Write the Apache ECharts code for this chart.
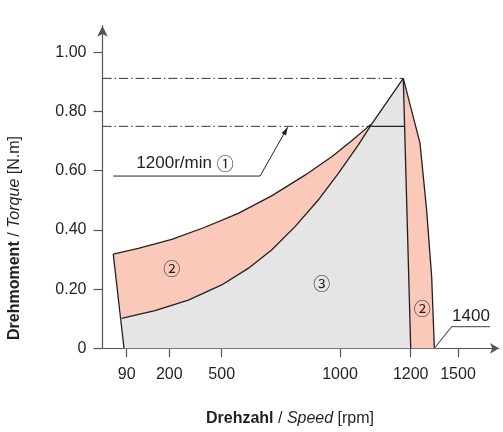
<!DOCTYPE html>
<html>
<head>
<meta charset="utf-8">
<script src="https://cdn.jsdelivr.net/npm/echarts@6/dist/echarts.min.js"></script>
<style>html,body{margin:0;padding:0;background:#fff}#c{width:503px;height:432px}</style>
</head>
<body>
<div id="c"></div>
<script>
// ---- axis ticks ----
const xTickRpm = [90, 200, 500, 1000, 1200, 1500];
const yTicks = [0, 0.2, 0.4, 0.6, 0.8, 1.0];
// schematic (non-linear) speed scale of the drawing: rpm -> fraction of axis length
const xScaleRpm = [0, 90, 200, 500, 1000, 1200, 1500];
const xScaleFrac = [0, 0.0610, 0.1685, 0.3006, 0.5990, 0.7773, 0.8966];

// ---- curves (rpm, N.m) ----
const upperCurveRpm = [40, 120, 214, 404, 570, 711, 852, 965, 1033, 1080, 1090];
const upperCurveTorque = [0.318, 0.338, 0.368, 0.409, 0.456, 0.515, 0.585, 0.647, 0.701, 0.749, 0.758];
const lowerCurveRpm = [71, 163, 309, 500, 612, 711, 810, 908, 993, 1052, 1090];
const lowerCurveTorque = [0.101, 0.127, 0.163, 0.214, 0.270, 0.332, 0.411, 0.501, 0.591, 0.687, 0.758];
const peakPoint = [1179, 0.912];
const rightCurveRpm = [1179, 1259, 1301, 1333, 1350];
const rightCurveTorque = [0.912, 0.693, 0.467, 0.242, 0];
const leftBottom = [80, 0];
const ratedBottom = [1200, 0];
const ratedLine = [[1090, 0.75], [1183, 0.75]];

// dash-dot reference lines
const refTorque = [0.912, 0.75];
const refEndRpm = [1179, 1090];

// annotations
const note1200Text = '1200r/min';
const note1200Mark = '①';
const note1200At = [290, 0.625];
const note1200Leader = [[40, 0.582], [662, 0.582], [779, 0.747]];
const note1400Text = '1400';
const note1400At = [1582, 0.107];
const note1400Leader = [[1350, 0], [1460, 0.073], [1703, 0.073]];
const zoneLabels = ['②', '③', '②'];
const zoneRpm = [214, 923, 1274];
const zoneTorque = [0.268, 0.220, 0.135];

function toAxis(rpm) {
  const n = xScaleRpm.length;
  let i = 0;
  while (i < n - 2 && rpm > xScaleRpm[i + 1]) i++;
  const r0 = xScaleRpm[i], r1 = xScaleRpm[i + 1], f0 = xScaleFrac[i], f1 = xScaleFrac[i + 1];
  return f0 + (rpm - r0) * (f1 - f0) / (r1 - r0);
}
function fromAxis(f) {
  const n = xScaleFrac.length;
  let i = 0;
  while (i < n - 2 && f > xScaleFrac[i + 1]) i++;
  const r0 = xScaleRpm[i], r1 = xScaleRpm[i + 1], f0 = xScaleFrac[i], f1 = xScaleFrac[i + 1];
  return r0 + (f - f0) * (r1 - r0) / (f1 - f0);
}

const FONT = "'Liberation Sans', Arial, Helvetica, sans-serif";
const CIRCLE_FONT = "'Noto Sans CJK JP', 'DejaVu Sans', sans-serif";
const INK = '#231f20';
const AXIS = '#555555';

function P(api, rpm, t) { return api.coord([toAxis(rpm), t]); }
function pts(api, rpms, ts) { return rpms.map((r, i) => P(api, r, ts[i])); }

function customSeries(name, z, render) {
  return { type: 'custom', name, z, data: [[0, 0]], silent: true, clip: false,
    renderItem: (params, api) => render(api) };
}

const option = {
  animation: false,
  grid: { left: 102.5, top: 25.7, width: 396.5, height: 322.6 },
  xAxis: {
    type: 'value', min: 0, max: 1,
    axisLine: { show: true, symbol: ['none', 'arrow'], symbolSize: [8, 9], lineStyle: { color: AXIS, width: 1.2 } },
    axisTick: { show: true, customValues: xTickRpm.map(toAxis), length: 9, lineStyle: { color: AXIS, width: 1.2 } },
    axisLabel: { customValues: xTickRpm.map(toAxis), formatter: v => String(Math.round(fromAxis(v))),
      margin: 18, fontSize: 16, fontFamily: FONT, color: INK },
    splitLine: { show: false }
  },
  yAxis: {
    type: 'value', min: 0, max: 1.09,
    axisLine: { show: true, symbol: ['none', 'arrow'], symbolSize: [8, 11], lineStyle: { color: AXIS, width: 1.2 } },
    axisTick: { show: true, customValues: yTicks, length: 9, lineStyle: { color: AXIS, width: 1.2 } },
    axisLabel: { customValues: yTicks, formatter: v => v === 0 ? '0' : v.toFixed(2),
      margin: 16, fontSize: 16, fontFamily: FONT, color: INK },
    splitLine: { show: false }
  },
  graphic: [
    { type: 'text', x: 15, y: 238, rotation: Math.PI / 2,
      style: { text: '{b|Drehmoment} / {i|Torque} [N.m]', align: 'center', verticalAlign: 'middle',
        fontSize: 16, fontFamily: FONT, fill: INK,
        rich: { b: { fontWeight: 'bold', fontSize: 16, fontFamily: FONT, fill: INK },
                i: { fontStyle: 'italic', fontSize: 16, fontFamily: FONT, fill: INK } } } },
    { type: 'text', x: 290, y: 419,
      style: { text: '{b|Drehzahl} / {i|Speed} [rpm]', align: 'center', verticalAlign: 'middle',
        fontSize: 16, fontFamily: FONT, fill: INK,
        rich: { b: { fontWeight: 'bold', fontSize: 16, fontFamily: FONT, fill: INK },
                i: { fontStyle: 'italic', fontSize: 16, fontFamily: FONT, fill: INK } } } }
  ],
  series: [
    customSeries('fills', 1, api => {
      const gray = [P(api, leftBottom[0], leftBottom[1])]
        .concat(pts(api, lowerCurveRpm, lowerCurveTorque))
        .concat([P(api, peakPoint[0], peakPoint[1]), P(api, ratedBottom[0], ratedBottom[1])]);
      const redLeft = pts(api, upperCurveRpm, upperCurveTorque)
        .concat(pts(api, lowerCurveRpm, lowerCurveTorque).reverse());
      const redRight = pts(api, rightCurveRpm, rightCurveTorque)
        .concat([P(api, ratedBottom[0], ratedBottom[1])]);
      return { type: 'group', children: [
        { type: 'polygon', shape: { points: gray }, style: { fill: '#e5e5e5' } },
        { type: 'polygon', shape: { points: redLeft }, style: { fill: '#fac9b9' } },
        { type: 'polygon', shape: { points: redRight }, style: { fill: '#fac9b9' } }
      ] };
    }),
    customSeries('refs', 2, api => ({ type: 'group', children: refTorque.map((t, i) => ({
      type: 'polyline', shape: { points: [P(api, 0, t), P(api, refEndRpm[i], t)] },
      style: { stroke: '#333', lineWidth: 1, lineDash: [9, 3, 1.5, 3], fill: null } })) })),
    customSeries('outlines', 3, api => {
      const st = { stroke: INK, lineWidth: 1.3, fill: null, lineJoin: 'round' };
      const lower = pts(api, lowerCurveRpm, lowerCurveTorque).concat([P(api, peakPoint[0], peakPoint[1])]);
      return { type: 'group', children: [
        { type: 'polyline', shape: { points: [P(api, upperCurveRpm[0], upperCurveTorque[0]), P(api, leftBottom[0], leftBottom[1])] }, style: st },
        { type: 'polyline', shape: { points: pts(api, upperCurveRpm, upperCurveTorque) }, style: st },
        { type: 'polyline', shape: { points: lower }, style: st },
        { type: 'polyline', shape: { points: [P(api, peakPoint[0], peakPoint[1]), P(api, ratedBottom[0], ratedBottom[1])] }, style: st },
        { type: 'polyline', shape: { points: pts(api, rightCurveRpm, rightCurveTorque) }, style: st },
        { type: 'polyline', shape: { points: ratedLine.map(p => P(api, p[0], p[1])) }, style: st }
      ] };
    }),
    customSeries('notes', 4, api => {
      const l1 = note1200Leader.map(p => P(api, p[0], p[1]));
      const tip = l1[2], from = l1[1];
      const dx = tip[0] - from[0], dy = tip[1] - from[1], len = Math.hypot(dx, dy);
      const ux = dx / len, uy = dy / len, nx = -uy, ny = ux;
      const head = [tip, [tip[0] - ux * 8 + nx * 2.6, tip[1] - uy * 8 + ny * 2.6], [tip[0] - ux * 8 - nx * 2.6, tip[1] - uy * 8 - ny * 2.6]];
      const l2 = note1400Leader.map(p => P(api, p[0], p[1]));
      const t1 = P(api, note1200At[0], note1200At[1]);
      const t2 = P(api, note1400At[0], note1400At[1]);
      const children = [
        { type: 'polyline', shape: { points: l1 }, style: { stroke: INK, lineWidth: 1, fill: null } },
        { type: 'polygon', shape: { points: head }, style: { fill: INK } },
        { type: 'polyline', shape: { points: l2 }, style: { stroke: '#666', lineWidth: 1.2, fill: null } },
        { type: 'text', x: t1[0], y: t1[1], style: { text: note1200Text + ' {c|' + note1200Mark + '}', fontSize: 17, fontFamily: FONT, fill: INK, align: 'center', verticalAlign: 'middle',
          rich: { c: { fontSize: 17, fontFamily: CIRCLE_FONT, fill: INK } } } },
        { type: 'text', x: t2[0], y: t2[1], style: { text: note1400Text, fontSize: 17, fontFamily: FONT, fill: INK, align: 'center', verticalAlign: 'middle' } }
      ];
      zoneLabels.forEach((s, i) => {
        const p = P(api, zoneRpm[i], zoneTorque[i]);
        children.push({ type: 'text', x: p[0], y: p[1], style: { text: s, fontSize: 17, fontFamily: CIRCLE_FONT, fill: INK, align: 'center', verticalAlign: 'middle' } });
      });
      return { type: 'group', children };
    })
  ]
};

const chart = echarts.init(document.getElementById('c'), null, { renderer: 'canvas' });
chart.setOption(option);
</script>
</body>
</html>
